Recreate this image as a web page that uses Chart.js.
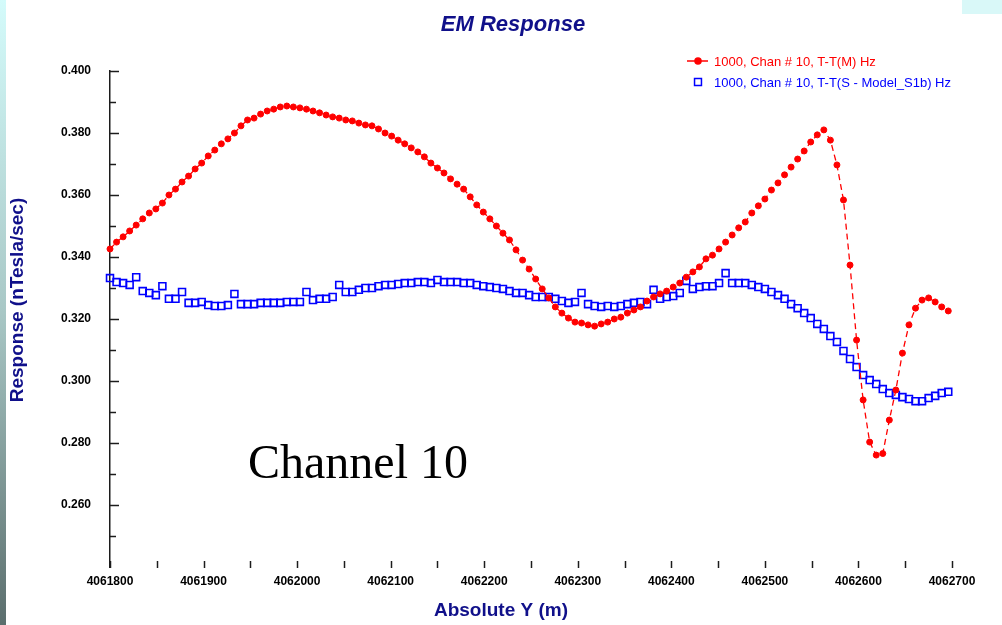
<!DOCTYPE html>
<html>
<head>
<meta charset="utf-8">
<title>EM Response</title>
<script src="https://cdn.jsdelivr.net/npm/chart.js@4.4.1/dist/chart.umd.min.js"></script>
<style>
  html, body { margin: 0; padding: 0; background: #ffffff; }
  #wrap { position: relative; width: 1002px; height: 625px; overflow: hidden; background: #ffffff; }
  #edge { position: absolute; left: 0; top: 0; width: 6px; height: 625px;
          background: linear-gradient(#d4fbfb, #a8c7c5 50%, #5b6e6d); }
  #corner { position: absolute; right: 0; top: 0; width: 40px; height: 14px; background: #d9f8f8; }
  canvas { position: absolute; left: 0; top: 0; }
</style>
</head>
<body>
<div id="wrap">
  <canvas id="chart" width="1002" height="625"></canvas>
  <div id="edge"></div>
  <div id="corner"></div>
</div>
<script>
// Survey stations along the line (Absolute Y, metres)
const stations = [
  4061800, 4061807, 4061814, 4061821, 4061828, 4061835, 4061842, 4061849, 4061856, 4061863,
  4061870, 4061877, 4061884, 4061891, 4061898, 4061905, 4061912, 4061919, 4061926, 4061933,
  4061940, 4061947, 4061954, 4061961, 4061968, 4061975, 4061982, 4061989, 4061996, 4062003,
  4062010, 4062017, 4062024, 4062031, 4062038, 4062045, 4062052, 4062059, 4062066, 4062073,
  4062080, 4062087, 4062094, 4062101, 4062108, 4062115, 4062122, 4062129, 4062136, 4062143,
  4062150, 4062157, 4062164, 4062171, 4062178, 4062185, 4062192, 4062199, 4062206, 4062213,
  4062220, 4062227, 4062234, 4062241, 4062248, 4062255, 4062262, 4062269, 4062276, 4062283,
  4062290, 4062297, 4062304, 4062311, 4062318, 4062325, 4062332, 4062339, 4062346, 4062353,
  4062360, 4062367, 4062374, 4062381, 4062388, 4062395, 4062402, 4062409, 4062416, 4062423,
  4062430, 4062437, 4062444, 4062451, 4062458, 4062465, 4062472, 4062479, 4062486, 4062493,
  4062500, 4062507, 4062514, 4062521, 4062528, 4062535, 4062542, 4062549, 4062556, 4062563,
  4062570, 4062577, 4062584, 4062591, 4062598, 4062605, 4062612, 4062619, 4062626, 4062633,
  4062640, 4062647, 4062654, 4062661, 4062668, 4062675, 4062682, 4062689, 4062696
];

// Measured response, channel 10 (nTesla/sec)
const measured = [
  0.3426, 0.3448, 0.3465, 0.3484, 0.3503, 0.3523, 0.3542, 0.3555, 0.3574, 0.3600,
  0.3619, 0.3642, 0.3661, 0.3684, 0.3703, 0.3726, 0.3745, 0.3765, 0.3781, 0.3800,
  0.3823, 0.3842, 0.3848, 0.3861, 0.3871, 0.3877, 0.3884, 0.3887, 0.3884, 0.3881,
  0.3877, 0.3871, 0.3865, 0.3858, 0.3852, 0.3848, 0.3842, 0.3839, 0.3832, 0.3826,
  0.3823, 0.3813, 0.3800, 0.3790, 0.3777, 0.3765, 0.3752, 0.3739, 0.3723, 0.3703,
  0.3687, 0.3671, 0.3652, 0.3635, 0.3619, 0.3594, 0.3568, 0.3545, 0.3523, 0.3500,
  0.3477, 0.3455, 0.3423, 0.3390, 0.3361, 0.3329, 0.3297, 0.3268, 0.3239, 0.3219,
  0.3203, 0.3190, 0.3187, 0.3181, 0.3177, 0.3184, 0.3190, 0.3200, 0.3206, 0.3219,
  0.3229, 0.3239, 0.3258, 0.3271, 0.3281, 0.3290, 0.3303, 0.3316, 0.3335, 0.3352,
  0.3368, 0.3394, 0.3406, 0.3426, 0.3448, 0.3471, 0.3494, 0.3513, 0.3542, 0.3565,
  0.3587, 0.3616, 0.3639, 0.3665, 0.3690, 0.3716, 0.3742, 0.3771, 0.3794, 0.3810,
  0.3777, 0.3697, 0.3584, 0.3374, 0.3132, 0.2939, 0.2803, 0.2761, 0.2766, 0.2874,
  0.2971, 0.3090, 0.3181, 0.3235, 0.3261, 0.3268, 0.3255, 0.3239, 0.3226
];

// Synthetic response from model S1b, channel 10 (nTesla/sec)
const modelled = [
  0.3332, 0.3319, 0.3316, 0.3310, 0.3335, 0.3290, 0.3284, 0.3277, 0.3306, 0.3265,
  0.3265, 0.3287, 0.3252, 0.3252, 0.3255, 0.3245, 0.3242, 0.3242, 0.3245, 0.3281,
  0.3248, 0.3248, 0.3248, 0.3252, 0.3252, 0.3252, 0.3252, 0.3255, 0.3255, 0.3255,
  0.3287, 0.3261, 0.3265, 0.3265, 0.3271, 0.3310, 0.3287, 0.3287, 0.3294, 0.3300,
  0.3300, 0.3306, 0.3310, 0.3310, 0.3313, 0.3316, 0.3316, 0.3319, 0.3319, 0.3316,
  0.3326, 0.3319, 0.3319, 0.3319, 0.3316, 0.3316, 0.3310, 0.3306, 0.3303, 0.3300,
  0.3297, 0.3290, 0.3284, 0.3284, 0.3277, 0.3271, 0.3271, 0.3271, 0.3265, 0.3258,
  0.3252, 0.3255, 0.3284, 0.3248, 0.3242, 0.3239, 0.3242, 0.3239, 0.3242, 0.3248,
  0.3252, 0.3255, 0.3248, 0.3294, 0.3265, 0.3271, 0.3274, 0.3284, 0.3323, 0.3297,
  0.3303, 0.3306, 0.3306, 0.3316, 0.3348, 0.3316, 0.3316, 0.3316, 0.3310, 0.3303,
  0.3297, 0.3287, 0.3277, 0.3265, 0.3248, 0.3235, 0.3219, 0.3203, 0.3184, 0.3168,
  0.3145, 0.3126, 0.3097, 0.3071, 0.3045, 0.3019, 0.3003, 0.2990, 0.2974, 0.2961,
  0.2955, 0.2948, 0.2942, 0.2935, 0.2935, 0.2945, 0.2952, 0.2961, 0.2965
];

const seriesNames = [
  '1000, Chan # 10, T-T(M) Hz',
  '1000, Chan # 10, T-T(S - Model_S1b) Hz'
];

const chartTitle = 'EM Response';
const xTitle = 'Absolute Y (m)';
const yTitle = 'Response (nTesla/sec)';
const note = 'Channel 10';

const yRange = [0.24, 0.40];
const xRange = [4061800, 4062700];

const SANS = "Arial, 'Liberation Sans', Helvetica, sans-serif";
const NAVY = '#10108a';

// Inward tick marks, titles, legend and the channel note
const decor = {
  id: 'decor',
  afterDraw(chart) {
    const { ctx, chartArea: a, scales: { x, y } } = chart;
    ctx.save();
    ctx.strokeStyle = '#1c1c1c';
    ctx.lineWidth = 1.5;
    y.ticks.forEach(t => {
      if (t.value <= yRange[0] + 1e-9) return;
      const py = Math.round(y.getPixelForValue(t.value)) + 0.5;
      const len = t.label !== '' ? 9 : 6;
      ctx.beginPath(); ctx.moveTo(a.left, py); ctx.lineTo(a.left + len, py); ctx.stroke();
    });
    x.ticks.forEach(t => {
      const px = Math.round(x.getPixelForValue(t.value)) + 0.5;
      ctx.beginPath(); ctx.moveTo(px, a.bottom - 6); ctx.lineTo(px, a.bottom + 1); ctx.stroke();
    });

    // chart title
    ctx.fillStyle = NAVY;
    ctx.textAlign = 'center';
    ctx.textBaseline = 'middle';
    ctx.font = 'italic bold 22px ' + SANS;
    ctx.fillText(chartTitle, 513, 25);

    // axis titles
    ctx.font = 'bold 19px ' + SANS;
    ctx.fillText(xTitle, 501, 611);
    ctx.save();
    ctx.translate(18, 300);
    ctx.rotate(-Math.PI / 2);
    ctx.font = 'bold 19px ' + SANS;
    ctx.fillText(yTitle, 0, 0);
    ctx.restore();

    // legend
    const ds = chart.data.datasets;
    ctx.font = '13px ' + SANS;
    ctx.textAlign = 'left';
    const rows = [61, 82];
    ds.forEach((d, i) => {
      const ly = rows[i];
      ctx.strokeStyle = d.borderColor;
      ctx.fillStyle = d.pointBackgroundColor;
      if (d.showLine !== false) {
        ctx.lineWidth = 1.5;
        ctx.beginPath(); ctx.moveTo(687, ly); ctx.lineTo(708, ly); ctx.stroke();
      }
      Chart.helpers.drawPoint(ctx, {
        pointStyle: d.pointStyle, radius: d.pointRadius, borderWidth: d.pointBorderWidth, rotation: 0
      }, 698, ly);
      ctx.fillStyle = d.borderColor;
      ctx.fillText(d.label, 714, ly + 1);
    });

    // channel note
    ctx.fillStyle = '#000000';
    ctx.font = "48px 'Liberation Serif', 'Times New Roman', serif";
    ctx.textAlign = 'left';
    ctx.textBaseline = 'alphabetic';
    ctx.fillText(note, 248, 478);
    ctx.restore();
  }
};

const toPoints = (ys) => stations.map((s, i) => ({ x: s, y: ys[i] }));

new Chart(document.getElementById('chart'), {
  type: 'line',
  data: {
    datasets: [
      {
        label: seriesNames[0],
        data: toPoints(measured),
        borderColor: '#ff0000',
        backgroundColor: '#ff0000',
        pointBackgroundColor: '#ff0000',
        pointBorderColor: '#ff0000',
        borderWidth: 1.3,
        borderDash: [6, 4],
        pointStyle: 'circle',
        pointRadius: 3.0,
        pointBorderWidth: 1,
        tension: 0,
        clip: false
      },
      {
        label: seriesNames[1],
        data: toPoints(modelled),
        borderColor: '#0000ff',
        backgroundColor: 'rgba(0,0,0,0)',
        pointBackgroundColor: 'rgba(0,0,0,0)',
        pointBorderColor: '#0000ff',
        showLine: false,
        pointStyle: 'rect',
        pointRadius: 4.9,
        pointBorderWidth: 1.6,
        clip: false
      }
    ]
  },
  options: {
    responsive: false,
    animation: false,
    devicePixelRatio: 1,
    layout: { padding: { top: 71, right: 50, left: 0, bottom: 0 } },
    plugins: {
      legend: { display: false },
      title: { display: false },
      tooltip: { enabled: false }
    },
    scales: {
      x: {
        type: 'linear',
        min: xRange[0],
        max: xRange[1],
        afterFit: s => { s.height = 58; },
        grid: { display: false, drawTicks: false },
        border: { display: false },
        ticks: {
          stepSize: 50,
          autoSkip: false,
          maxRotation: 0,
          padding: 7,
          color: '#000000',
          font: { family: SANS, size: 12, weight: 'bold' },
          callback: v => (Math.round(v) % 100 === 0 ? String(Math.round(v)) : '')
        }
      },
      y: {
        type: 'linear',
        min: yRange[0],
        max: yRange[1],
        afterFit: s => { s.width = 110; },
        grid: { display: false, drawTicks: false },
        border: { display: true, color: '#1c1c1c', width: 1.5 },
        ticks: {
          stepSize: 0.01,
          autoSkip: false,
          padding: 19,
          color: '#000000',
          font: { family: SANS, size: 12, weight: 'bold' },
          callback: v => {
            const k = Math.round(v * 100);
            if (k <= Math.round(yRange[0] * 100)) return '';
            return k % 2 === 0 ? (k / 100).toFixed(3) : '';
          }
        }
      }
    }
  },
  plugins: [decor]
});
</script>
</body>
</html>
